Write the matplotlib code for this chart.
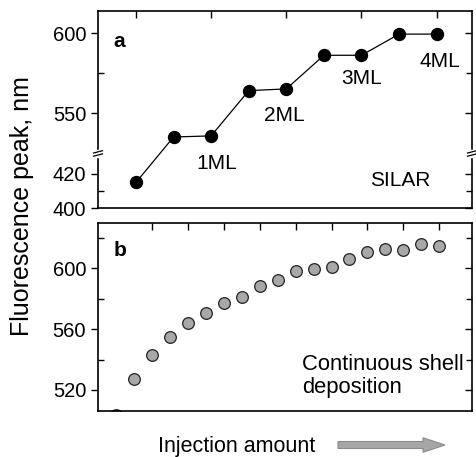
import numpy as np
import matplotlib
matplotlib.use("Agg")
import matplotlib.pyplot as plt
from matplotlib.ticker import FixedLocator, MultipleLocator
from matplotlib.patches import FancyArrow

plt.rcParams['font.family'] = ['Liberation Sans', 'DejaVu Sans']

# panel a: SILAR
silar_x = np.arange(9)
silar_y = [414.9, 535.0, 535.7, 564.1, 565.2, 586.3, 586.3, 599.6, 599.6]
ml_labels = ["1ML", "2ML", "3ML", "4ML"]
ml_x = [2.15, 3.94, 6.0, 8.09]
ml_y = [425.9, 548.4, 571.5, 582.6]

# panel b: continuous
cont_x = np.arange(19)
cont_y = [503.5, 527.2, 543.2, 555.1, 564.1, 570.8, 577.4, 581.0, 588.0, 592.1,
          598.0, 599.8, 600.9, 605.9, 610.7, 612.9, 612.0, 615.7, 614.9]

# broken y axis for panel a (piecewise linear scale)
lo_top, hi_bot = 431.8, 524.7
f1 = (lo_top - 400) * 1.7
f2 = f1 + (hi_bot - lo_top) * 0.001

def fwd(y):
    y = np.asarray(y, float)
    return np.where(y <= lo_top, (y - 400) * 1.7,
                    np.where(y >= hi_bot, f2 + (y - hi_bot) * 1.58,
                             f1 + (y - lo_top) * 0.001))

def inv(z):
    z = np.asarray(z, float)
    return np.where(z <= f1, 400 + z / 1.7,
                    np.where(z >= f2, hi_bot + (z - f2) / 1.58,
                             lo_top + (z - f1) / 0.001))

fig = plt.figure(figsize=(4.76, 4.57), dpi=100)
W, H = 476, 457
ax1 = fig.add_axes([98/W, 1-208/H, (472-98)/W, (208-11)/H])
ax2 = fig.add_axes([98/W, 1-411/H, (472-98)/W, (411-223)/H])

# ---- panel a
ax1.set_yscale('function', functions=(fwd, inv))
ax1.plot(silar_x, silar_y, color='black', lw=0.9, marker='o', ms=8.6,
         mfc='black', mec='black')
ax1.set_xlim(-1.01, 8.94)
ax1.set_ylim(400, 614.1)
ax1.yaxis.set_major_locator(FixedLocator([400, 420, 550, 600]))
ax1.yaxis.set_minor_locator(FixedLocator([410, 575]))
ax1.xaxis.set_major_locator(MultipleLocator(2))
for i in range(4):
    ax1.text(ml_x[i], ml_y[i], ml_labels[i], fontsize=15, ha='center', va='center')
ax1.text(7.02, 416.2, "SILAR", fontsize=15, ha='center', va='center')
ax1.text(0.056, 0.843, "a", transform=ax1.transAxes, fontsize=15,
         fontweight='bold', ha='center', va='center')

# ---- panel b
ax2.plot(cont_x, cont_y, ls='none', marker='o', ms=8.4, mfc='#a8a8a8',
         mec='#222222', mew=0.9)
ax2.set_xlim(-1.0, 19.82)
ax2.set_ylim(506.2, 629.7)
ax2.yaxis.set_major_locator(MultipleLocator(40))
ax2.yaxis.set_minor_locator(FixedLocator([540, 580, 620]))
ax2.xaxis.set_major_locator(FixedLocator([2, 6, 10, 14, 18]))
ax2.xaxis.set_minor_locator(FixedLocator([4, 8, 12, 16]))
ax2.text(10.36, 529.2, "Continuous shell\ndeposition", fontsize=15.8,
         ha='left', va='center', linespacing=1.1)
ax2.text(0.059, 0.854, "b", transform=ax2.transAxes, fontsize=15,
         fontweight='bold', ha='center', va='center')

for ax in (ax1, ax2):
    for s in ax.spines.values():
        s.set_linewidth(1.2)
    ax.tick_params(axis='x', which='both', bottom=False, top=True,
                   direction='in', labelbottom=False, length=5, width=1.0)
    ax.tick_params(axis='y', which='both', left=True, right=False, labelsize=14.5)
    ax.tick_params(axis='y', which='major', direction='out', length=5, width=1.0)
    ax.tick_params(axis='y', which='minor', direction='in', length=4, width=1.0)
    r = ax.twinx()
    r.set_ylim(ax.get_ylim())
    if ax is ax1:
        r.set_yscale('function', functions=(fwd, inv))
        r.set_ylim(400, 614.1)
    r.yaxis.set_major_locator(FixedLocator(ax.yaxis.get_majorticklocs()))
    r.yaxis.set_minor_locator(FixedLocator(ax.yaxis.get_minorticklocs()))
    r.tick_params(axis='y', which='both', direction='in', labelright=False,
                  width=1.0)
    r.tick_params(axis='y', which='major', length=5)
    r.tick_params(axis='y', which='minor', length=4)
    for s in r.spines.values():
        s.set_visible(False)

# break marks on panel a spines
yb = float(fwd(478.0)) / float(fwd(614.1))
for xs in (0.0, 1.0):
    ax1.plot([xs, xs], [yb - 0.012, yb + 0.012], transform=ax1.transAxes,
             color='white', lw=2.5, clip_on=False, zorder=5)
    for dy in (-0.008, 0.008):
        ax1.plot([xs - 0.012, xs + 0.012], [yb + dy - 0.006, yb + dy + 0.006],
                 transform=ax1.transAxes, color='black', lw=0.9,
                 clip_on=False, zorder=6)

fig.text(22/W, 1-206/H, "Fluorescence peak, nm", rotation=90, fontsize=18,
         ha='center', va='center')
fig.text(237/W, (H-452)/H, "Injection amount", fontsize=15.5, ha='center',
         va='baseline')
fig.patches.append(FancyArrow(3.38, 0.12, 1.07, 0, width=0.07,
                              head_width=0.145, head_length=0.22,
                              length_includes_head=True,
                              transform=fig.dpi_scale_trans,
                              fc='#a6a6a6', ec='#8a8a8a', lw=0.8))

fig.savefig("out.png", dpi=100)
